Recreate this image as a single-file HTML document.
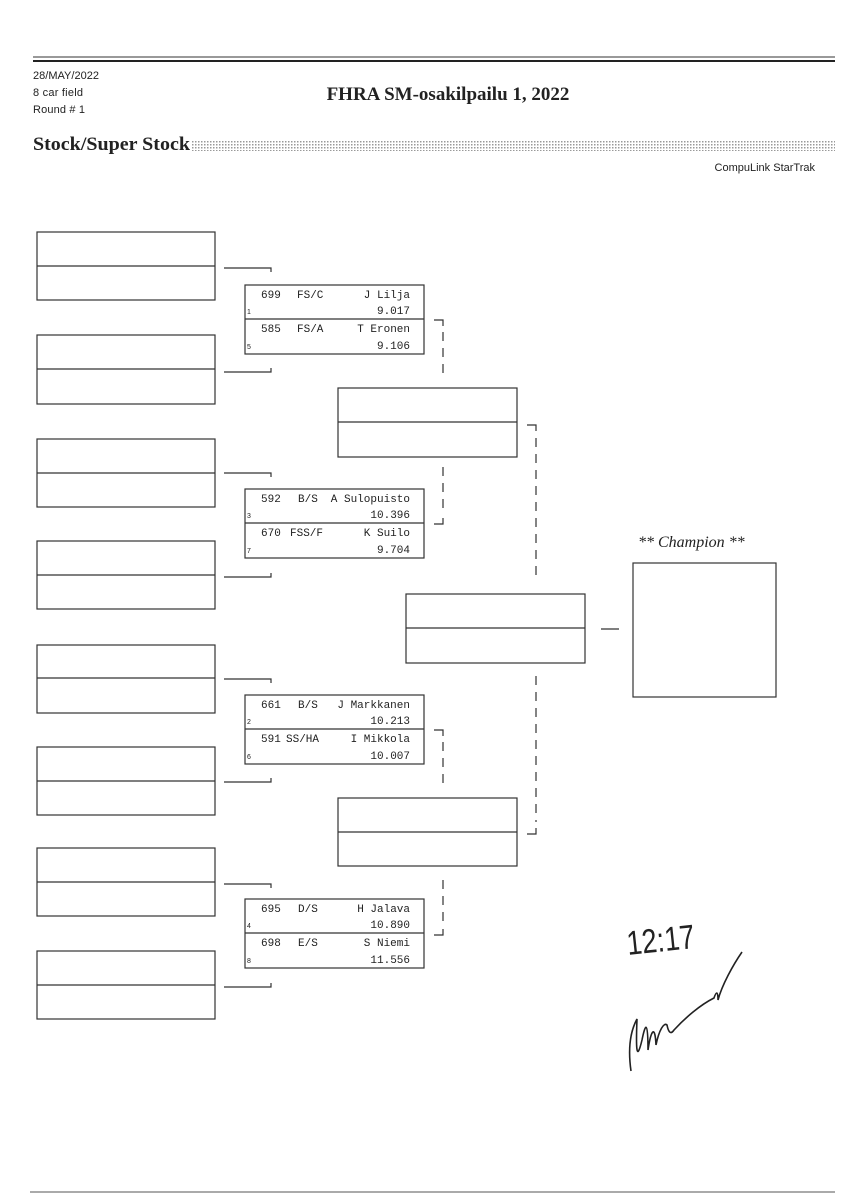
<!DOCTYPE html>
<html><head><meta charset="utf-8"><style>
html,body{margin:0;padding:0;background:#fff}
svg{display:block}
.m{font-family:"Liberation Mono","DejaVu Sans Mono",monospace;font-size:11px;fill:#222}
.s{font-family:"Liberation Sans",sans-serif;font-size:7px;fill:#222}
</style></head><body>
<svg width="848" height="1200" viewBox="0 0 848 1200" xmlns="http://www.w3.org/2000/svg">
<defs>
<pattern id="dots" width="3" height="3" patternUnits="userSpaceOnUse"><rect width="3" height="3" fill="#fff"/><rect width="1.5" height="1.5" fill="#999"/></pattern>
</defs>
<line x1="33" y1="57" x2="835" y2="57" stroke="#333" stroke-width="1"/>
<line x1="33" y1="61" x2="835" y2="61" stroke="#222" stroke-width="2"/>
<g font-family="Liberation Sans Narrow,Liberation Sans,sans-serif" font-size="11" fill="#222" style="font-stretch:condensed">
<text x="33" y="79" textLength="66">28/MAY/2022</text>
<text x="33" y="96" textLength="50">8 car field</text>
<text x="33" y="113" textLength="52">Round # 1</text>
<text x="815" y="171" text-anchor="end">CompuLink StarTrak</text>
</g>
<text x="448" y="100" text-anchor="middle" font-family="Liberation Serif,serif" font-weight="bold" font-size="19" fill="#222">FHRA SM-osakilpailu 1, 2022</text>
<text x="33" y="150" font-family="Liberation Serif,serif" font-weight="bold" font-size="19" fill="#222" textLength="157" lengthAdjust="spacingAndGlyphs">Stock/Super Stock</text>
<rect x="192" y="141" width="643" height="10" fill="url(#dots)"/>

<g fill="none" stroke="#333" stroke-width="1.2">
<rect x="37" y="232" width="178" height="68"/><line x1="37" y1="266" x2="215" y2="266"/>
<rect x="37" y="335" width="178" height="69"/><line x1="37" y1="369" x2="215" y2="369"/>
<rect x="37" y="439" width="178" height="68"/><line x1="37" y1="473" x2="215" y2="473"/>
<rect x="37" y="541" width="178" height="68"/><line x1="37" y1="575" x2="215" y2="575"/>
<rect x="37" y="645" width="178" height="68"/><line x1="37" y1="678" x2="215" y2="678"/>
<rect x="37" y="747" width="178" height="68"/><line x1="37" y1="781" x2="215" y2="781"/>
<rect x="37" y="848" width="178" height="68"/><line x1="37" y1="882" x2="215" y2="882"/>
<rect x="37" y="951" width="178" height="68"/><line x1="37" y1="985" x2="215" y2="985"/>
<path d="M224 268H271V272M224 372H271V368"/>
<path d="M224 473H271V477M224 577H271V573"/>
<path d="M224 679H271V683M224 782H271V778"/>
<path d="M224 884H271V888M224 987H271V983"/>
<rect x="245" y="285" width="179" height="69"/><line x1="245" y1="319" x2="424" y2="319"/>
<rect x="245" y="489" width="179" height="69"/><line x1="245" y1="523" x2="424" y2="523"/>
<rect x="245" y="695" width="179" height="69"/><line x1="245" y1="729" x2="424" y2="729"/>
<rect x="245" y="899" width="179" height="69"/><line x1="245" y1="933" x2="424" y2="933"/>
<rect x="338" y="388" width="179" height="69"/><line x1="338" y1="422" x2="517" y2="422"/>
<rect x="338" y="798" width="179" height="68"/><line x1="338" y1="832" x2="517" y2="832"/>
<rect x="406" y="594" width="179" height="69"/><line x1="406" y1="628" x2="585" y2="628"/>
<rect x="633" y="563" width="143" height="134"/>
<line x1="601" y1="629" x2="619" y2="629"/>
<path d="M434 320H443V326M434 524H443V518M527 425H536V431M527 834H536V828M434 730H443V736M434 935H443V929"/>
</g>
<g fill="none" stroke="#333" stroke-width="1.2" stroke-dasharray="9,7">
<path d="M443 332V380"/>
<path d="M443 467V512"/>
<path d="M536 438V582"/>
<path d="M536 676V822"/>
<path d="M443 742V788"/>
<path d="M443 880V924"/>
</g>

<g class="m">
<text x="261" y="298">699</text><text x="297" y="298">FS/C</text><text x="410" y="298" text-anchor="end">J Lilja</text><text x="410" y="314" text-anchor="end">9.017</text>
<text x="261" y="332">585</text><text x="297" y="332">FS/A</text><text x="410" y="332" text-anchor="end">T Eronen</text><text x="410" y="349" text-anchor="end">9.106</text>
<text x="261" y="502">592</text><text x="298" y="502">B/S</text><text x="410" y="502" text-anchor="end">A Sulopuisto</text><text x="410" y="518" text-anchor="end">10.396</text>
<text x="261" y="536">670</text><text x="290" y="536">FSS/F</text><text x="410" y="536" text-anchor="end">K Suilo</text><text x="410" y="553" text-anchor="end">9.704</text>
<text x="261" y="708">661</text><text x="298" y="708">B/S</text><text x="410" y="708" text-anchor="end">J Markkanen</text><text x="410" y="724" text-anchor="end">10.213</text>
<text x="261" y="742">591</text><text x="286" y="742">SS/HA</text><text x="410" y="742" text-anchor="end">I Mikkola</text><text x="410" y="759" text-anchor="end">10.007</text>
<text x="261" y="912">695</text><text x="298" y="912">D/S</text><text x="410" y="912" text-anchor="end">H Jalava</text><text x="410" y="928" text-anchor="end">10.890</text>
<text x="261" y="946">698</text><text x="298" y="946">E/S</text><text x="410" y="946" text-anchor="end">S Niemi</text><text x="410" y="963" text-anchor="end">11.556</text>
</g>
<g class="s">
<text x="247" y="314">1</text><text x="247" y="349">5</text>
<text x="247" y="518">3</text><text x="247" y="553">7</text>
<text x="247" y="724">2</text><text x="247" y="759">6</text>
<text x="247" y="928">4</text><text x="247" y="963">8</text>
</g>

<text x="638" y="547" font-family="Liberation Serif,serif" font-style="italic" font-size="16" fill="#222">** Champion **</text>

<text x="628" y="955" font-family="Liberation Sans Narrow,Liberation Sans,sans-serif" font-size="34" fill="#222" transform="rotate(-6 628 955)" textLength="68" lengthAdjust="spacingAndGlyphs">12:17</text>
<path d="M631 1071C628 1050 630 1032 637 1019C636 1045 636 1065 642 1040C645 1025 648 1018 648 1050C651 1030 655 1024 656 1045C659 1030 664 1022 667 1025C668 1030 670 1036 674 1030C685 1018 700 1005 714 998C716 992 718 990 718 1000C722 985 733 965 742 952" fill="none" stroke="#222" stroke-width="1.6"/>

<line x1="30" y1="1192" x2="835" y2="1192" stroke="#555" stroke-width="1"/>
</svg>
</body></html>
